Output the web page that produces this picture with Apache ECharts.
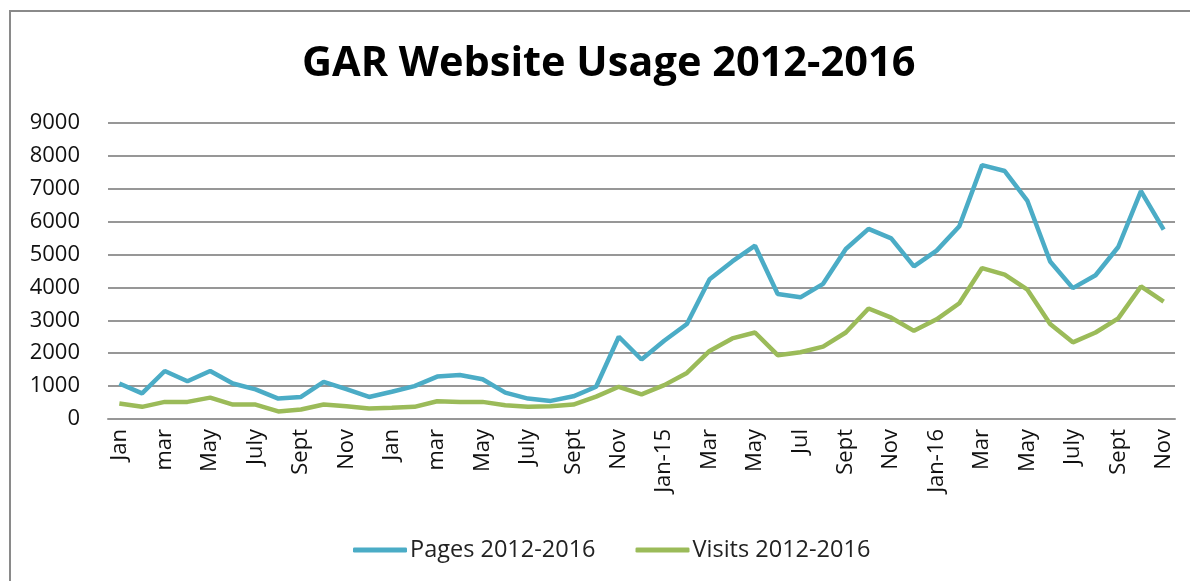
<!DOCTYPE html>
<html>
<head>
<meta charset="utf-8">
<title>GAR Website Usage 2012-2016</title>
<script src="https://cdn.jsdelivr.net/npm/echarts@6/dist/echarts.min.js"></script>
<style>
  html, body { margin: 0; padding: 0; background: #fff; overflow: hidden; }
  #frame { position: absolute; left: 9px; top: 10px; width: 1200px; height: 600px; border: 2px solid #8a8a8a; box-sizing: border-box; }
  #chart { position: absolute; left: 0; top: 0; width: 1190px; height: 581px; }
</style>
</head>
<body>
<div id="frame"></div>
<div id="chart"></div>
<script>
// months, Jan 2013 .. Nov 2016 as labelled in the source sheet
const months = [
  'Jan', 'Feb', 'mar', 'Apr', 'May', 'Jun', 'July', 'Aug', 'Sept', 'Oct', 'Nov', 'Dec',
  'Jan', 'Feb', 'mar', 'Apr', 'May', 'Jun', 'July', 'Aug', 'Sept', 'Oct', 'Nov', 'Dec',
  'Jan-15', 'Feb', 'Mar', 'Apr', 'May', 'Jun', 'Jul', 'Aug', 'Sept', 'Oct', 'Nov', 'Dec',
  'Jan-16', 'Feb', 'Mar', 'Apr', 'May', 'Jun', 'July', 'Aug', 'Sept', 'Oct', 'Nov'
]

const pages = [
  1080, 780, 1460, 1150, 1460, 1080, 900, 620, 670, 1130, 910, 670,
  830, 1000, 1290, 1340, 1210, 800, 620, 550, 690, 980, 2500, 1810,
  2380, 2890, 4250, 4790, 5270, 3800, 3700, 4110, 5170, 5780, 5490, 4640,
  5120, 5860, 7720, 7540, 6630, 4790, 3980, 4370, 5230, 6930, 5760
]

const visits = [
  470, 370, 520, 520, 650, 440, 440, 230, 290, 440, 390, 320,
  340, 370, 540, 520, 520, 420, 370, 390, 440, 680, 980, 750,
  1030, 1400, 2070, 2450, 2630, 1940, 2030, 2200, 2630, 3360, 3080, 2680,
  3030, 3520, 4590, 4390, 3930, 2890, 2330, 2630, 3060, 4030, 3570
]

const FONT = 'Open Sans'
const chart = echarts.init(document.getElementById('chart'))

chart.setOption({
  animation: false,
  backgroundColor: 'transparent',
  textStyle: { fontFamily: FONT },
  title: {
    text: 'GAR Website Usage 2012-2016',
    left: 297,
    top: 38,
    textStyle: { fontFamily: FONT, fontSize: 41.5, fontWeight: 'bold', color: '#000' }
  },
  legend: {
    left: 348,
    top: 533,
    itemWidth: 54,
    itemHeight: 5,
    itemGap: 40,
    icon: 'roundRect',
    textStyle: { fontFamily: FONT, fontSize: 23.5, color: '#222', padding: [0, 0, 0, -2] },
    data: ['Pages 2012-2016', 'Visits 2012-2016']
  },
  grid: { left: 108, right: 15, top: 123, bottom: 162 },
  xAxis: {
    type: 'category',
    data: months,
    boundaryGap: true,
    axisLine: { show: true, lineStyle: { color: '#979797', width: 2 } },
    axisTick: { show: false },
    axisLabel: {
      interval: 1,
      rotate: 90,
      margin: 10,
      fontFamily: FONT,
      fontSize: 22,
      color: '#111'
    }
  },
  yAxis: {
    type: 'value',
    min: 0,
    max: 9000,
    interval: 1000,
    axisLine: { show: false },
    axisTick: { show: false },
    axisLabel: {
      margin: 28,
      fontFamily: FONT,
      fontSize: 22,
      color: '#111',
      formatter: (v) => String(v)
    },
    splitLine: { lineStyle: { color: '#979797', width: 2 } }
  },
  series: [
    {
      name: 'Pages 2012-2016',
      type: 'line',
      data: pages,
      showSymbol: false,
      symbol: 'none',
      lineStyle: { color: '#4bacc6', width: 4.5 },
      itemStyle: { color: '#4bacc6' }
    },
    {
      name: 'Visits 2012-2016',
      type: 'line',
      data: visits,
      showSymbol: false,
      symbol: 'none',
      lineStyle: { color: '#9bbb59', width: 4.5 },
      itemStyle: { color: '#9bbb59' }
    }
  ]
})
</script>
</body>
</html>
